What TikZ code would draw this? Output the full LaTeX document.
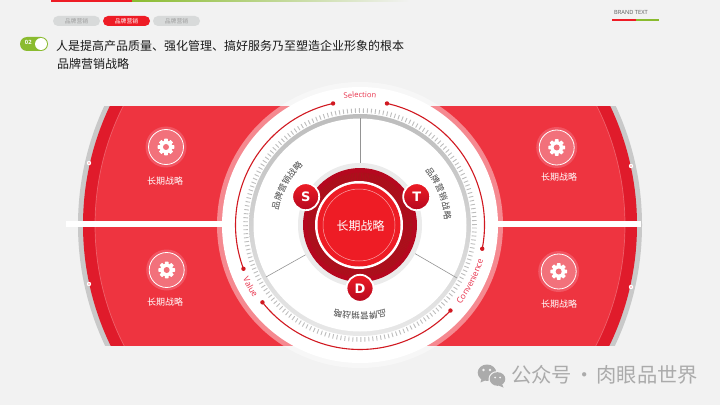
\documentclass[tikz,border=0pt]{standalone}
\usepackage{fontspec}
\setmainfont{Noto Sans CJK SC}
\newfontfamily\latinf{Open Sans}
\newfontfamily\badgef{DejaVu Sans}
\usetikzlibrary{decorations.text}
\definecolor{bgc}{HTML}{F2F2F2}
\definecolor{bandc}{HTML}{EE3440}
\definecolor{darkred}{HTML}{E01B2B}
\definecolor{mainred}{HTML}{EE1C25}
\definecolor{deepred}{HTML}{B5081F}
\definecolor{ringgray}{HTML}{C9C9C9}
\definecolor{iconc}{HTML}{F2717B}
\definecolor{halored}{HTML}{F15562}
\definecolor{greenc}{HTML}{8ABB2F}
\definecolor{labelred}{HTML}{E8304A}
\definecolor{tabgray}{HTML}{D8DADA}
\definecolor{wmark}{HTML}{ABABAB}
\tikzset{
  tabpill/.style={rounded corners=5pt,minimum width=47pt,minimum height=10pt,inner sep=0pt,font=\fontsize{5.8}{6}\selectfont},
  ichar/.style={inner sep=0pt,text=black!72,font=\fontsize{8.6}{9}\selectfont},
  glabel/.style={inner sep=0pt,text=white,font=\fontsize{9}{10}\selectfont},
  redarc/.style={draw=mainred!88!black,line width=1.1pt},
  enddot/.style={fill=mainred!88!black,draw=none},
  spoke/.style={draw=black!42,line width=.6pt},
  badge/.style={circle,minimum size=27pt,inner sep=0pt,draw=white,line width=1.8pt,top color=mainred,bottom color=deepred,text=white,font=\badgef\bfseries\fontsize{13}{14}\selectfont},
}
\newcommand{\gearicon}[2]{%
  \begin{scope}[shift={(#1,#2)}]
    \fill[halored] (0,0) circle[radius=20.5];
    \fill[iconc] (0,0) circle[radius=17.5];
    \draw[white,line width=.8pt] (0,0) circle[radius=17.5];
    \foreach \a in {0,45,...,315}{
      \fill[white,rotate=\a,rounded corners=.5pt] (-1.9,3) rectangle (1.9,8.3);
    }
    \fill[white] (0,0) circle[radius=6.4];
    \fill[iconc] (0,0) circle[radius=3];
  \end{scope}}
\begin{document}
\begin{tikzpicture}[x=1pt,y=1pt]
\useasboundingbox (0,0) rectangle (720,405);
\fill[bgc] (0,0) rectangle (720,405);
% top rule
\fill[mainred] (51,403) rectangle (132,405);
\shade[left color=greenc,right color=bgc] (132,403) rectangle (410,405);
% tabs
\node[tabpill,fill=tabgray,text=black!38] (tabA) at (76.5,384) {品牌营销};
\node[tabpill,fill=mainred,text=white] (tabB) at (126.5,384) {品牌营销};
\node[tabpill,fill=tabgray,text=black!38] (tabC) at (176.5,384) {品牌营销};
% toggle
\fill[greenc,rounded corners=7pt] (20,354) rectangle (48,368);
\fill[white] (41,361) circle[radius=6];
\node[inner sep=0pt,text=white,font=\latinf\bfseries\fontsize{5.8}{6}\selectfont] (tnum) at (28.3,362.3) {02};
% title
\node[anchor=west,inner sep=0pt,text=black!90,font=\fontsize{12}{14}\selectfont] (title1) at (56,359.5) {人是提高产品质量、强化管理、搞好服务乃至塑造企业形象的根本};
\node[anchor=west,inner sep=0pt,text=black!90,font=\fontsize{12}{14}\selectfont] (title2) at (57,341) {品牌营销战略};
% brand
\node[anchor=west,inner sep=0pt,text=black!65,font=\latinf\fontsize{5.7}{6}\selectfont] (brand) at (614,392.5) {BRAND TEXT};
\fill[mainred] (612,384) rectangle (636,386);
\fill[greenc] (636,384) rectangle (659,386);
% red band
\begin{scope}
  \clip (0,60) rectangle (720,298);
  \fill[ringgray] (360,180) circle[radius=282];
  \fill[darkred] (360,180) circle[radius=277];
  \fill[bandc] (360,180) circle[radius=265];
  \draw[white,opacity=.25,line width=.7pt] (360,180) circle[radius=265];
\end{scope}
% white bar
\fill[white] (66,178) rectangle (641,184);
% rim dots
\foreach \x/\y/\n in {89/242/1,89/121/2,631/239/3,631/118/4}{
  \fill[white] (\x,\y) circle[radius=2.2];
  \fill[mainred] (\x,\y) circle[radius=.7];
}
% icons
\gearicon{166}{258}
\gearicon{166.7}{135}
\gearicon{556.7}{257.5}
\gearicon{558.7}{133.5}
\node[glabel] (g1) at (165,224) {长期战略};
\node[glabel] (g2) at (165,103) {长期战略};
\node[glabel] (g3) at (559,228) {长期战略};
\node[glabel] (g4) at (559,101) {长期战略};
% big disc
\fill[white,opacity=.42] (360,180) circle[radius=143];
\fill[white] (360,180) circle[radius=138];
% red arcs
\begin{scope}[shift={(360,180)}]
  \draw[redarc] (77.5:124.5) arc[start angle=77.5,end angle=-11,radius=124.5];
  \draw[redarc] (-43.4:124.5) arc[start angle=-43.4,end angle=-141.6,radius=124.5];
  \draw[redarc] (200.6:124.5) arc[start angle=200.6,end angle=102.5,radius=124.5];
  \foreach \a in {77.5,-11,-43.4,-141.6,200.6,102.5}{\fill[enddot] (\a:124.5) circle[radius=2.2];}
  % ticks
  \draw[black!26,line width=4.6pt,dash pattern=on .9pt off 3.1pt] (0,0) circle[radius=114.5];
  % gray ring
  \shade[top color=black!26,bottom color=black!9] (0,0) circle[radius=111];
  \fill[white] (0,0) circle[radius=106.5];
  % spokes
  \coordinate (s1a) at (0,61); \coordinate (s1b) at (0,107);
  \coordinate (s2a) at (54,-28); \coordinate (s2b) at (97,-53);
  \coordinate (s3a) at (-53,-29); \coordinate (s3b) at (-94,-52);
  \draw[spoke] (s1a) -- (s1b);
  \draw[spoke] (s2a) -- (s2b);
  \draw[spoke] (s3a) -- (s3b);
  % hub
  \fill[black!8] (0,0) circle[radius=62];
  \fill[deepred] (0,0) circle[radius=57];
  \draw[mainred!70!black,line width=9pt,dash pattern=on .8pt off .8pt] (0,0) circle[radius=48];
  \fill[white] (-1,0) circle[radius=44];
  \fill[mainred] (-1,0) circle[radius=41.5];
  \draw[white,opacity=.6,line width=.5pt] (-1,0) circle[radius=36];
  \node[inner sep=0pt,text=white,font=\fontsize{12}{14}\selectfont] (hub) at (0.5,-1) {长期战略};
  % curved labels
  \path[decorate,decoration={text along path,text align=center,text color=labelred,text={|\latinf\fontsize{7.6}{9}\selectfont|Selection}}] (115:127.5) arc[start angle=115,end angle=65,radius=127.5];
  \path[decorate,decoration={text along path,text align=center,text color=labelred,text={|\latinf\fontsize{8.4}{9}\selectfont|Convenience}}] (-62:128) arc[start angle=-62,end angle=8,radius=128];
  \path[decorate,decoration={text along path,text align=center,text color=labelred,text={|\latinf\fontsize{8.4}{9}\selectfont|Value}}] (185:129) arc[start angle=185,end angle=234,radius=129];
  % badges
  \node[badge] (S) at (-54.3,28.3) {S};
  \node[badge] (T) at (56.7,28.3) {T};
  \node[badge] (D) at (0,-63.3) {D};
  % rotated text
  \foreach \ch [count=\i from 0] in {品,牌,营,销,战,略}{
    \pgfmathsetmacro{\aL}{167-6.1*\i}
    \pgfmathsetmacro{\aR}{37-6.1*\i}
    \pgfmathsetmacro{\aB}{-76-5.6*\i}
    \node[ichar,rotate=\aL-90] (l\i) at (\aL:86) {\ch};
    \node[ichar,rotate=\aR-90] (r\i) at (\aR:88) {\ch};
    \node[ichar,rotate=\aB-90] (b\i) at (\aB:91) {\ch};
  }
\end{scope}
% watermark
\begin{scope}
  \fill[wmark] (487,32.3) ellipse[x radius=9.3,y radius=8.2];
  \fill[wmark] (481.5,26.5) -- (480.5,22.5) -- (486,25) -- cycle;
  \fill[bgc] (497.5,26) ellipse[x radius=9,y radius=8];
  \fill[wmark] (497.5,26) ellipse[x radius=7.8,y radius=6.8];
  \fill[wmark] (502,21) -- (503.5,17.5) -- (498.5,19.5) -- cycle;
  \foreach \x/\y/\r in {483.5/35/1.3,490/35/1.3,495/27.5/1,500/27.5/1}{\fill[bgc] (\x,\y) circle[radius=\r];}
\end{scope}
\node[anchor=west,inner sep=0pt,text=wmark,font=\fontsize{20.3}{22}\selectfont] (wm) at (511,30) {公众号\hspace{2pt}·\hspace{2pt}肉眼品世界};
\end{tikzpicture}
\end{document}
